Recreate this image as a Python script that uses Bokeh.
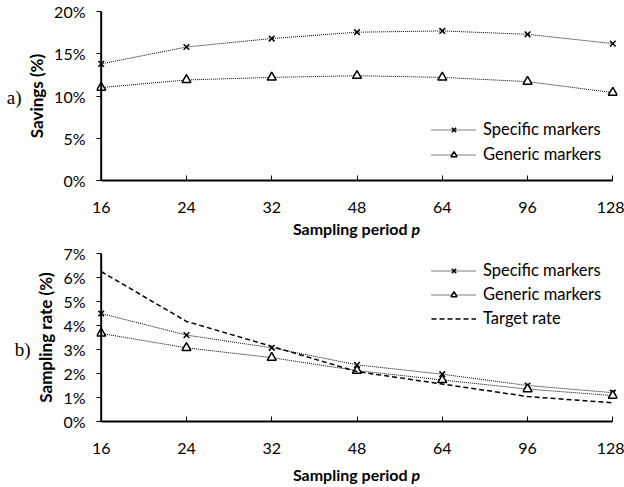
from bokeh.plotting import figure
from bokeh.layouts import column
from bokeh.models import (Range1d, FixedTicker, PrintfTickFormatter, Legend, LegendItem,
                          LinearAxis, Div, Span)
from bokeh.embed import file_html
from bokeh.resources import INLINE

periods = ["16", "24", "32", "48", "64", "96", "128"]
savings_specific = [13.8, 15.8, 16.8, 17.55, 17.7, 17.3, 16.2]
savings_generic = [11.0, 11.9, 12.2, 12.4, 12.2, 11.7, 10.4]
rate_specific = [4.5, 3.6, 3.07, 2.36, 1.97, 1.5, 1.2]
rate_generic = [3.67, 3.07, 2.66, 2.12, 1.73, 1.35, 1.08]
rate_target = [6.25, 4.17, 3.13, 2.08, 1.56, 1.04, 0.78]
savings_ticks = [0, 5, 10, 15, 20]
rate_ticks = [0, 1, 2, 3, 4, 5, 6, 7]

FONT = "Lato"
xs = list(range(len(periods)))
PAD = 0.055


def make_fig(height, ymax, yticks, ylabel, panel, panel_y, border_top, border_bottom):
    p = figure(width=624, height=height, output_backend="svg", toolbar_location=None,
               x_range=Range1d(xs[0] - PAD, xs[-1] + PAD), y_range=Range1d(0, ymax),
               min_border_left=96, min_border_right=7,
               min_border_top=border_top, min_border_bottom=border_bottom)
    p.outline_line_color = None
    p.grid.visible = False
    p.background_fill_color = "white"
    p.border_fill_color = "white"

    p.xaxis.ticker = FixedTicker(ticks=xs)
    p.xaxis.bounds = (xs[0], xs[-1])
    p.xaxis.major_label_overrides = {i: s for i, s in enumerate(periods)}
    p.xaxis.major_tick_in = 5
    p.xaxis.major_tick_out = 0
    p.xaxis.minor_tick_line_color = None
    p.xaxis.major_label_standoff = 21

    p.yaxis.ticker = FixedTicker(ticks=yticks)
    p.yaxis.formatter = PrintfTickFormatter(format="%d%%")
    p.yaxis.axis_line_color = None
    p.yaxis.major_tick_in = 5
    p.yaxis.major_tick_out = 0
    p.yaxis.minor_tick_line_color = None
    p.yaxis.major_label_standoff = 11
    p.yaxis.axis_label = ylabel
    p.yaxis.axis_label_standoff = 4
    p.yaxis.axis_label_text_font_style = "bold"

    # y axis line drawn at the first sampling period
    p.add_layout(Span(location=xs[0], dimension="height", line_color="black", line_width=2))

    for ax in (p.xaxis, p.yaxis):
        ax.axis_line_width = 2
        ax.major_tick_line_color = "black"
        ax.major_tick_line_width = 1
        ax.major_label_text_font = FONT
        ax.major_label_text_font_size = "16px"
        ax.major_label_text_color = "black"
        ax.axis_label_text_font = FONT
        ax.axis_label_text_font_size = "17px"
        ax.axis_label_text_color = "black"
    p.xaxis.axis_line_color = "black"

    # panel tag "a)" / "b)" as an extra, line-less left axis
    tag = LinearAxis(ticker=FixedTicker(ticks=[panel_y]),
                     major_label_overrides={panel_y: panel},
                     axis_line_color=None, major_tick_line_color=None,
                     minor_tick_line_color=None, major_tick_out=0, major_tick_in=0,
                     major_label_standoff=2, major_label_text_font="Liberation Serif",
                     major_label_text_font_size="19px", major_label_text_color="black")
    p.add_layout(tag, "left")
    return p


def xtitle(height, line_height):
    return Div(text="<b>Sampling period <i>p</i></b>", width=511, height=height,
               margin=(0, 0, 0, 101),
               styles={"font-family": FONT, "font-size": "16px", "text-align": "center",
                       "color": "black", "line-height": line_height})


def legend(items, location, spacing):
    return Legend(items=items, location=location, background_fill_alpha=0,
                  border_line_color=None, padding=0, margin=0, spacing=spacing,
                  glyph_width=45, glyph_height=15, label_height=20, label_standoff=7,
                  label_text_font=FONT, label_text_font_size="16.5px",
                  label_text_color="black")


# ---- top: savings
p1 = make_fig(220, 20, savings_ticks, "Savings (%)", "a)", 9.8, 11, 40)
l1 = p1.line(xs, savings_specific, line_color="black", line_width=1, line_dash="1 1")
m1 = p1.scatter(xs, savings_specific, marker="x", size=8, line_color="black", line_width=1.5)
l2 = p1.line(xs, savings_generic, line_color="black", line_width=1, line_dash="1 1")
m2 = p1.scatter(xs, savings_generic, marker="triangle", size=9, line_color="black",
                fill_color="white", line_width=1.5)
p1.add_layout(legend([LegendItem(label="Specific markers", renderers=[l1, m1]),
                      LegendItem(label="Generic markers", renderers=[l2, m2])],
                     (335, 16), 5))

# ---- bottom: sampling rate
p2 = make_fig(221, 7, rate_ticks, "Sampling rate (%)", "b)", 3.0, 13, 40)
l3 = p2.line(xs, rate_specific, line_color="black", line_width=1, line_dash="1 1")
m3 = p2.scatter(xs, rate_specific, marker="x", size=8, line_color="black", line_width=1.5)
l4 = p2.line(xs, rate_generic, line_color="black", line_width=1, line_dash="1 1")
m4 = p2.scatter(xs, rate_generic, marker="triangle", size=9, line_color="black",
                fill_color="white", line_width=1.5)
l5 = p2.line(xs, rate_target, line_color="black", line_width=1.5, line_dash="5 3")
p2.add_layout(legend([LegendItem(label="Specific markers", renderers=[l3, m3]),
                      LegendItem(label="Generic markers", renderers=[l4, m4]),
                      LegendItem(label="Target rate", renderers=[l5])],
                     (335, 93), 4))

layout = column(p1, xtitle(20, "18px"), p2, xtitle(26, "28px"), spacing=0)
open("out.html", "w").write(file_html(layout, INLINE))
